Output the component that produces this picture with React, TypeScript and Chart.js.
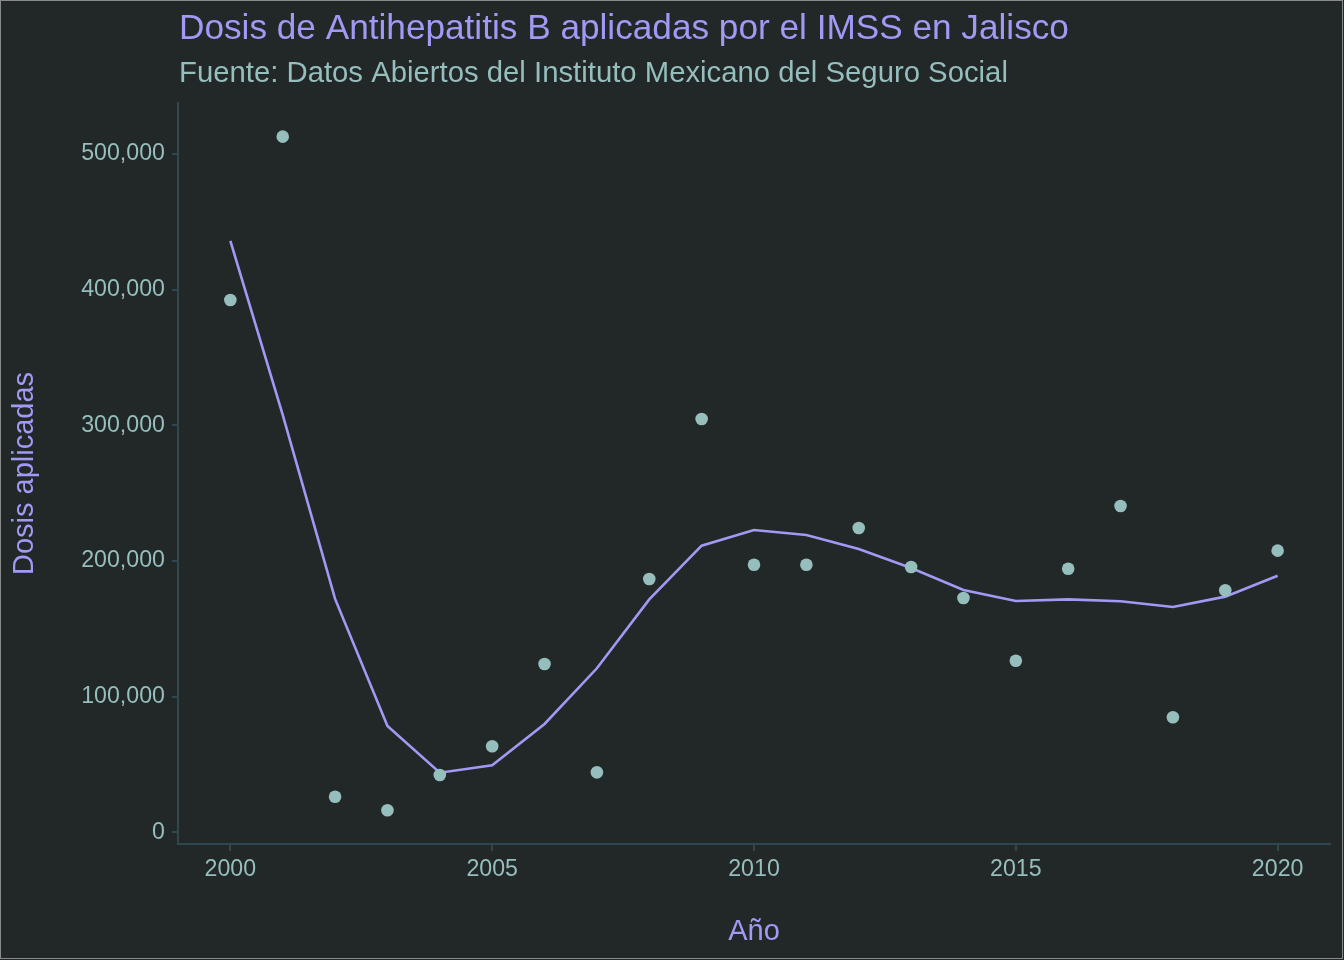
import React, { useEffect, useRef } from 'react';
import { Chart, registerables } from 'chart.js';

Chart.register(...registerables);

const years = [
  2000, 2001, 2002, 2003, 2004, 2005, 2006, 2007, 2008, 2009, 2010, 2011, 2012, 2013, 2014, 2015,
  2016, 2017, 2018, 2019, 2020,
];
// dosis aplicadas por año (puntos)
const dosis = [
  392350, 512700, 26240, 16220, 42240, 63390, 124050, 44220, 186700, 304640, 197250, 197250,
  224300, 195550, 172700, 126500, 194300, 240500, 84760, 178400, 207600,
];
// curva suavizada (loess)
const tendencia = [
  435840, 307600, 172000, 78350, 43930, 49380, 79830, 120900, 171700, 211250, 222800, 219100,
  208800, 194800, 178600, 170500, 171700, 170300, 166100, 173700, 189100,
];
const xTicks = [2000, 2005, 2010, 2015, 2020];
const yTicks = [0, 100000, 200000, 300000, 400000, 500000];

const TITLE = 'Dosis de Antihepatitis B aplicadas por el IMSS en Jalisco';
const SUBTITLE = 'Fuente: Datos Abiertos del Instituto Mexicano del Seguro Social';

const FONT = '"Liberation Sans", Arial, Helvetica, sans-serif';
const BG = '#222728';
const LAVENDER = '#a09af4';
const TEAL = '#95bebc';
const AXIS = '#2f4750';

const App: React.FC = () => {
  const canvasRef = useRef<HTMLCanvasElement | null>(null);
  const chartInstance = useRef<Chart | null>(null);

  useEffect(() => {
    const canvas = canvasRef.current;
    if (!canvas) return;
    const ctx = canvas.getContext('2d');
    if (!ctx) return;

    if (chartInstance.current) chartInstance.current.destroy();

    chartInstance.current = new Chart(ctx, {
      type: 'scatter',
      data: {
        datasets: [
          {
            type: 'scatter',
            data: years.map((y, i) => ({ x: y, y: dosis[i] })),
            backgroundColor: TEAL,
            borderWidth: 0,
            pointRadius: 6.3,
            pointHoverRadius: 6.3,
          },
          {
            type: 'line',
            data: years.map((y, i) => ({ x: y, y: tendencia[i] })),
            borderColor: LAVENDER,
            borderWidth: 2.6,
            tension: 0,
            pointRadius: 0,
            fill: false,
          },
        ],
      },
      options: {
        animation: false,
        responsive: true,
        maintainAspectRatio: false,
        events: [],
        plugins: {
          legend: { display: false },
          tooltip: { enabled: false },
        },
        layout: {
          padding: { left: 0, right: 14, top: 103, bottom: 0 },
        },
        scales: {
          x: {
            type: 'linear',
            min: 1999,
            max: 2021,
            afterBuildTicks: (scale) => {
              scale.ticks = xTicks.map((v) => ({ value: v }));
            },
            afterFit: (scale) => {
              scale.height = 116;
            },
            ticks: {
              color: TEAL,
              font: { family: FONT, size: 23.2 },
              padding: 5,
              maxRotation: 0,
              callback: (v) => String(v),
            },
            grid: {
              drawOnChartArea: false,
              drawTicks: true,
              tickLength: 7,
              color: AXIS,
              lineWidth: 2,
            },
            border: { display: true, color: AXIS, width: 2 },
            title: {
              display: true,
              text: 'Año',
              color: LAVENDER,
              font: { family: FONT, size: 29 },
              padding: { top: 0, bottom: 11 },
            },
          },
          y: {
            type: 'linear',
            min: -8600,
            max: 537500,
            afterBuildTicks: (scale) => {
              scale.ticks = yTicks.map((v) => ({ value: v }));
            },
            afterFit: (scale) => {
              scale.width = 178;
            },
            ticks: {
              color: TEAL,
              font: { family: FONT, size: 23.2 },
              padding: 7,
              callback: (v) => Number(v).toLocaleString('en-US'),
            },
            grid: {
              drawOnChartArea: false,
              drawTicks: true,
              tickLength: 6,
              color: AXIS,
              lineWidth: 2,
            },
            border: { display: true, color: AXIS, width: 2 },
            title: {
              display: true,
              text: 'Dosis aplicadas',
              color: LAVENDER,
              font: { family: FONT, size: 29 },
              padding: { top: 8, bottom: 0 },
            },
          },
        },
      },
      plugins: [
        {
          id: 'titulos',
          afterDraw(chart) {
            const { ctx, chartArea } = chart;
            ctx.save();
            ctx.textAlign = 'left';
            ctx.textBaseline = 'alphabetic';
            ctx.fillStyle = LAVENDER;
            ctx.font = `35.2px ${FONT}`;
            ctx.fillText(TITLE, chartArea.left + 1, 39);
            ctx.fillStyle = TEAL;
            ctx.font = `29.3px ${FONT}`;
            ctx.fillText(SUBTITLE, chartArea.left + 1, 82);
            ctx.restore();
          },
        },
      ],
    });

    return () => {
      if (chartInstance.current) {
        chartInstance.current.destroy();
        chartInstance.current = null;
      }
    };
  }, []);

  return (
    <div
      style={{
        position: 'absolute',
        top: 0,
        left: 0,
        width: '1344px',
        height: '960px',
        background: BG,
      }}
    >
      <canvas ref={canvasRef}></canvas>
      <div
        style={{
          position: 'absolute',
          top: 0,
          left: 0,
          width: '1343px',
          height: '959px',
          boxSizing: 'border-box',
          border: '1px solid #8a8a8a',
          pointerEvents: 'none',
        }}
      />
    </div>
  );
};

export default App;
